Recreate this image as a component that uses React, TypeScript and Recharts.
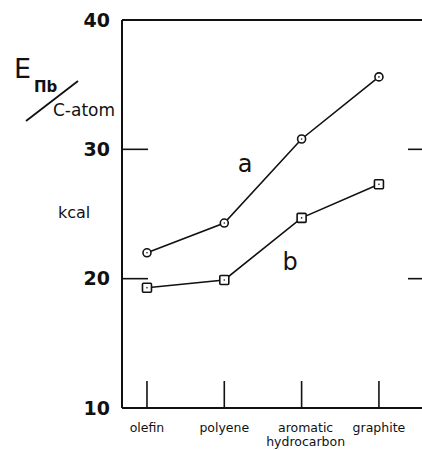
import { LineChart, Line, XAxis, YAxis, ReferenceLine, ReferenceDot } from 'recharts';

const categories = ['olefin', 'polyene', 'aromatic\nhydrocarbon', 'graphite'];
const seriesA = [22.0, 24.3, 30.8, 35.6];
const seriesB = [19.3, 19.9, 24.7, 27.3];
const yTicks = [10, 20, 30, 40];

const data = categories.map((name, i) => ({ i, name, a: seriesA[i], b: seriesB[i] }));

const FONT = '"DejaVu Sans", sans-serif';
const INK = '#111';

const XTick = ({ x, y, payload }: any) => {
  const lines = categories[payload.value].split('\n');
  const cx = lines.length > 1 ? x + 4 : x;
  return (
    <text x={cx} y={y} textAnchor="middle" fontSize={12.5} fontFamily={FONT} fill={INK}>
      {lines.map((l, k) => (
        <tspan key={k} x={cx} dy={k === 0 ? 10 : 14}>{l}</tspan>
      ))}
    </text>
  );
};

const CircleDot = (p: any) => (
  <g key={`a-${p.index}`}>
    <circle cx={p.cx} cy={p.cy} r={4} fill="#fff" stroke={INK} strokeWidth={1.6} />
    <circle cx={p.cx} cy={p.cy} r={0.8} fill={INK} />
  </g>
);

const SquareDot = (p: any) => (
  <g key={`b-${p.index}`}>
    <rect x={p.cx - 4.5} y={p.cy - 4.5} width={9} height={9} rx={1} fill="#fff" stroke={INK} strokeWidth={1.6} />
    <circle cx={p.cx} cy={p.cy} r={0.8} fill={INK} />
  </g>
);

const NoTick = () => <g />;

const YTitle = () => (
  <g fontFamily={FONT} fill={INK}>
    <text x={14} y={78} fontSize={27}>E</text>
    <text x={34} y={92} fontSize={15} fontWeight="bold">Πb</text>
    <line x1={26} y1={121} x2={78} y2={81} stroke={INK} strokeWidth={1.8} />
    <text x={53} y={116} fontSize={17}>C-atom</text>
    <text x={58} y={218} fontSize={16}>kcal</text>
  </g>
);

export default function App() {
  return (
    <div style={{ position: 'absolute', left: 0, top: 0, width: 422, height: 450, overflow: 'hidden', background: '#fff' }}>
      <LineChart width={424} height={450} data={data} margin={{ top: 20, right: 0, bottom: 2, left: 62 }}>
        <XAxis
          dataKey="i"
          type="number"
          domain={[-0.323, 3.557]}
          ticks={[0, 1, 2, 3]}
          height={40}
          tickSize={-27}
          tickMargin={41}
          axisLine={{ stroke: INK, strokeWidth: 2 }}
          tickLine={{ stroke: INK, strokeWidth: 1.6 }}
          tick={<XTick />}
          allowDataOverflow
        />
        <YAxis
          yAxisId="l"
          domain={[10, 40]}
          ticks={yTicks}
          width={60}
          tickSize={-26}
          tickMargin={38}
          axisLine={{ stroke: INK, strokeWidth: 2 }}
          tickLine={{ stroke: INK, strokeWidth: 1.6 }}
          tick={{ fontSize: 19, fontFamily: FONT, fontWeight: 'bold', fill: INK }}
          label={{ content: () => <YTitle /> }}
          allowDataOverflow
        />
        <YAxis
          yAxisId="r"
          orientation="right"
          domain={[10, 40]}
          ticks={[20, 30]}
          width={2}
          tickSize={-14}
          axisLine={false}
          tick={<NoTick />}
          tickLine={{ stroke: INK, strokeWidth: 1.6 }}
          allowDataOverflow
        />
        <ReferenceLine yAxisId="l" y={40} stroke={INK} strokeWidth={2} />
        <Line yAxisId="l" dataKey="a" stroke={INK} strokeWidth={1.6} dot={CircleDot} isAnimationActive={false} />
        <Line yAxisId="r" dataKey="b" stroke={INK} strokeWidth={1.6} dot={SquareDot} isAnimationActive={false} />
        <ReferenceDot yAxisId="l" x={1.27} y={28.9} r={0} fill="none" stroke="none"
          label={{ value: 'a', position: 'center', fontSize: 24, fontFamily: FONT, fill: INK }} />
        <ReferenceDot yAxisId="l" x={1.85} y={21.3} r={0} fill="none" stroke="none"
          label={{ value: 'b', position: 'center', fontSize: 24, fontFamily: FONT, fill: INK }} />
      </LineChart>
    </div>
  );
}
